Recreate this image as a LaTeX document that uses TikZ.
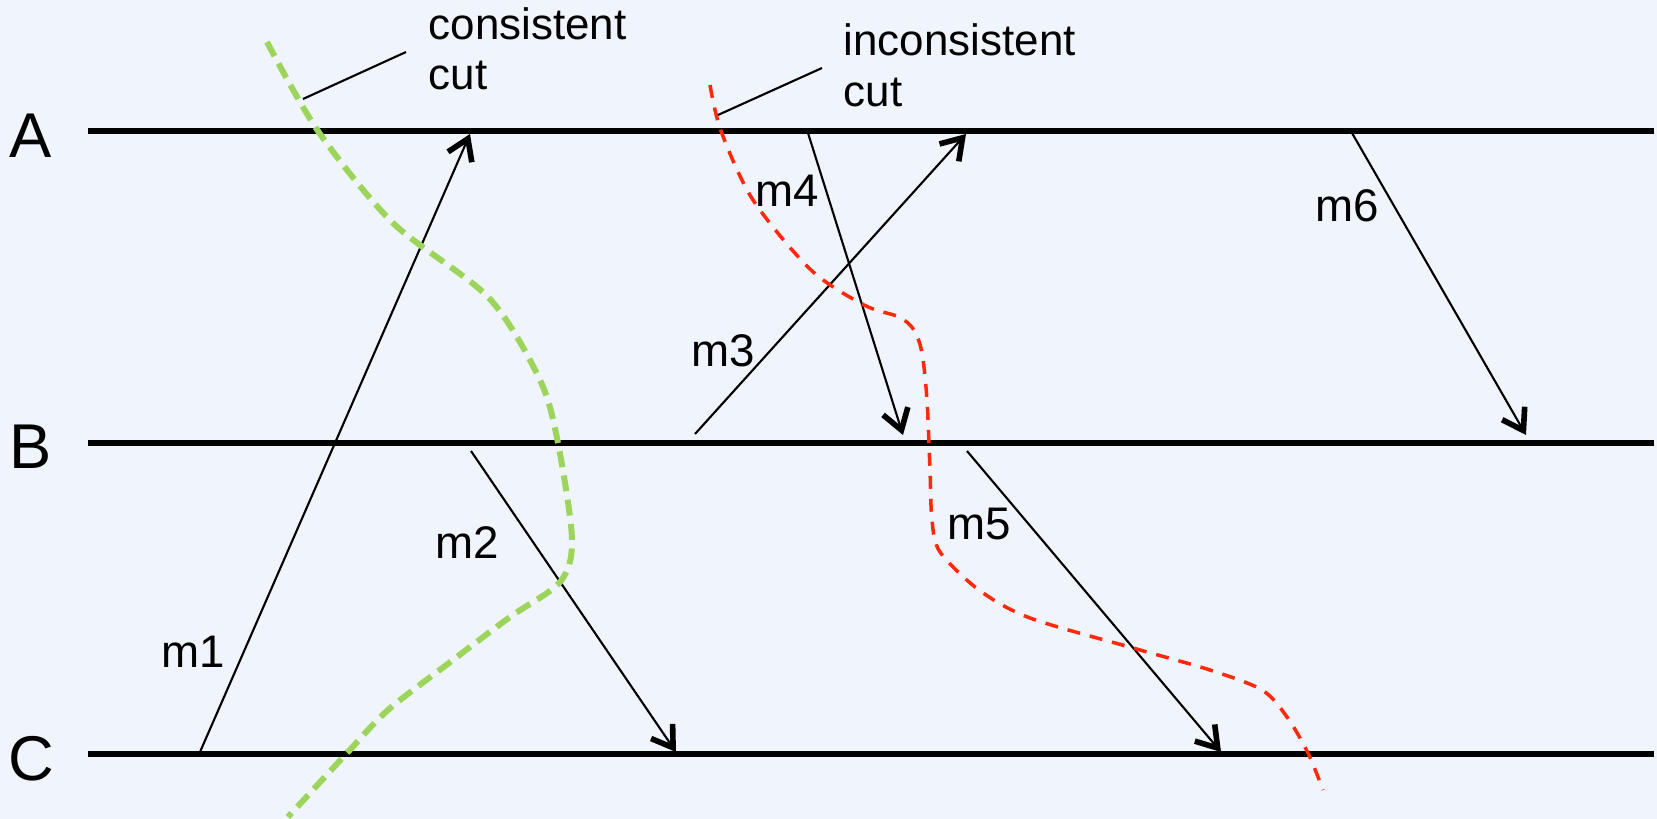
\documentclass[tikz,border=0pt]{standalone}
\usepackage{fontspec}
\setmainfont{Liberation Sans}
\usetikzlibrary{positioning,calc,arrows.meta}

\definecolor{bgblue}{RGB}{239,244,253}
\definecolor{cutgreen}{RGB}{157,212,92}
\definecolor{cutred}{RGB}{255,42,12}

\tikzset{
  proc/.style={line width=1.45pt},
  msg/.style={line width=0.6pt, -{Straight Barb[length=2mm,width=2.6mm,line width=1.6pt]}},
  msglabel/.style={font=\fontsize{13}{15}\selectfont, inner sep=0pt},
  proclabel/.style={font=\fontsize{18}{20}\selectfont, inner sep=0pt},
  cutlabel/.style={font=\fontsize{12.5}{14.3}\selectfont, align=left, inner sep=0pt, anchor=base west},
  goodcut/.style={cutgreen, line width=1.7pt, dash pattern=on 1.6mm off 0.85mm},
  badcut/.style={cutred, line width=1pt, dash pattern=on 1.3mm off 1mm},
}

\begin{document}
\begin{tikzpicture}[x=0.1mm, y=-0.1mm]
  \fill[bgblue] (0,0) rectangle (1657,819);
  \useasboundingbox (0,0) rectangle (1657,819);

  % Processes
  \node[proclabel] (A) at (31,136) {A};
  \node[proclabel] (B) at (31,447) {B};
  \node[proclabel] (C) at (31,759) {C};
  \coordinate (Al) at (88,131);  \coordinate (Ar) at (1654,131);
  \coordinate (Bl) at (88,443);  \coordinate (Br) at (1654,443);
  \coordinate (Cl) at (88,754);  \coordinate (Cr) at (1654,754);
  \draw[proc] (Al) -- (Ar);
  \draw[proc] (Bl) -- (Br);
  \draw[proc] (Cl) -- (Cr);

  % Message end points
  \coordinate (m1s) at (200,752);  \coordinate (m1e) at (470,134);
  \coordinate (m2s) at (471,451);  \coordinate (m2e) at (676,752);
  \coordinate (m3s) at (695,434);  \coordinate (m3e) at (966,134);
  \coordinate (m4s) at (808,133);  \coordinate (m4e) at (903,435);
  \coordinate (m5s) at (967,451);  \coordinate (m5e) at (1221,752);
  \coordinate (m6s) at (1352,133); \coordinate (m6e) at (1526,435);

  % Messages
  \draw[msg] (m1s) -- (m1e);
  \draw[msg] (m2s) -- (m2e);
  \draw[msg] (m3s) -- (m3e);
  \draw[msg] (m4s) -- (m4e);
  \draw[msg] (m5s) -- (m5e);
  \draw[msg] (m6s) -- (m6e);
  \node[msglabel] (l1) at (193,652) {m1};
  \node[msglabel] (l2) at (467,543) {m2};
  \node[msglabel] (l3) at (723,351) {m3};
  \node[msglabel] (l4) at (787,191) {m4};
  \node[msglabel] (l5) at (979,524) {m5};
  \node[msglabel] (l6) at (1347,206) {m6};

  % Cuts
  \draw[goodcut] plot[smooth] coordinates {(267,42) (318,131) (393,223) (489,298)
    (540,380) (558,443) (572,540) (560,582) (510,617) (449,663) (388,710) (347,753) (288,817)};
  \draw[badcut] plot[smooth] coordinates {(710,85) (721,131) (753,200) (811,270)
    (864,305) (899,317) (914,330) (922,353) (927,400) (930,470) (932,520) (940,552)
    (979,590) (1030,618) (1133,648) (1210,670) (1262,690) (1287,717) (1308,753) (1323,790)};

  % Cut labels
  \node[cutlabel] (good) at (428,90) {consistent\\cut};
  \node[cutlabel] (bad) at (843,106) {inconsistent\\cut};
  \coordinate (goodtip) at (303,99);  \coordinate (goodend) at (406,52);
  \coordinate (badtip) at (718,115);  \coordinate (badend) at (822,68);
  \draw[line width=0.6pt] (goodtip) -- (goodend);
  \draw[line width=0.6pt] (badtip) -- (badend);
\end{tikzpicture}
\end{document}
